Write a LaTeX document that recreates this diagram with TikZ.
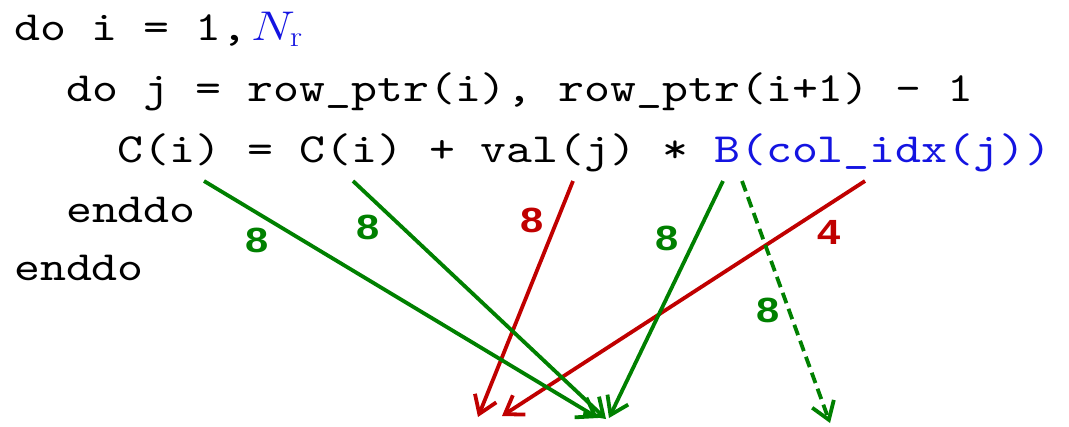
\RequirePackage{fix-cm}
\documentclass[tikz,border=0pt]{standalone}
\usepackage{graphicx}
\usepackage{fontspec}
\newfontfamily\lblfont{Liberation Sans}
\newfontfamily\codefont{lmmono10-regular.otf}
\usetikzlibrary{arrows.meta}
\definecolor{cgreen}{RGB}{0,128,0}
\definecolor{cred}{RGB}{192,0,0}
\definecolor{cblue}{RGB}{20,20,225}
\newcommand{\hstr}[1]{\scalebox{1.19}[1]{#1}}
\begin{document}
\begin{tikzpicture}[x=1pt,y=-1pt,
  code/.style={anchor=base west, inner sep=0pt, font=\fontsize{41.5}{50}\selectfont\codefont},
  lbl/.style={inner sep=0pt, font=\fontsize{35}{40}\selectfont\lblfont\bfseries},
  arr/.style={line width=3.8pt, -{Straight Barb[length=17pt,width=23pt]}},
  dsh/.style={dash pattern=on 11pt off 6pt},
]
\useasboundingbox (0,0) rectangle (1069,426);
% code lines
\node[code] (l1) at (14,40)    {\hstr{do i = 1,\kern3pt\textcolor{cblue}{$N_{\mathrm{r}}$}}};
\node[code] (l2) at (65.9,101) {\hstr{do j = row\_ptr(i), row\_ptr(i+1) - 1}};
\node[code] (l3) at (117.7,162){\hstr{C(i) = C(i) + val(j) * \textcolor{cblue}{B(col\_idx(j))}}};
\node[code] (l4) at (65.9,222) {\hstr{enddo}};
\node[code] (l5) at (14,280)   {\hstr{enddo}};
% arrow end points
\coordinate (g1s) at (204,181); \coordinate (g1e) at (598,418);
\coordinate (g2s) at (353,181); \coordinate (g2e) at (606,419);
\coordinate (r1s) at (573,181); \coordinate (r1e) at (478,417);
\coordinate (g3s) at (723,181); \coordinate (g3e) at (609,418);
\coordinate (r2s) at (865,181); \coordinate (r2e) at (502,416);
\coordinate (gds) at (742,181); \coordinate (gde) at (830,423);
% arrows
\draw[arr, cred]   (r1s) -- (r1e);
\draw[arr, cred]   (r2s) -- (r2e);
\draw[arr, cgreen] (g1s) -- (g1e);
\draw[arr, cgreen] (g2s) -- (g2e);
\draw[arr, cgreen] (g3s) -- (g3e);
\draw[arr, cgreen, dsh] (gds) -- (gde);
% labels
\node[lbl, text=cgreen] (n1) at (257,240) {\hstr{8}};
\node[lbl, text=cgreen] (n2) at (368,227) {\hstr{8}};
\node[lbl, text=cred]   (n3) at (532,220) {\hstr{8}};
\node[lbl, text=cgreen] (n4) at (667,238) {\hstr{8}};
\node[lbl, text=cred]   (n5) at (829,232) {\hstr{4}};
\node[lbl, text=cgreen] (n6) at (768,310) {\hstr{8}};
\end{tikzpicture}
\end{document}
